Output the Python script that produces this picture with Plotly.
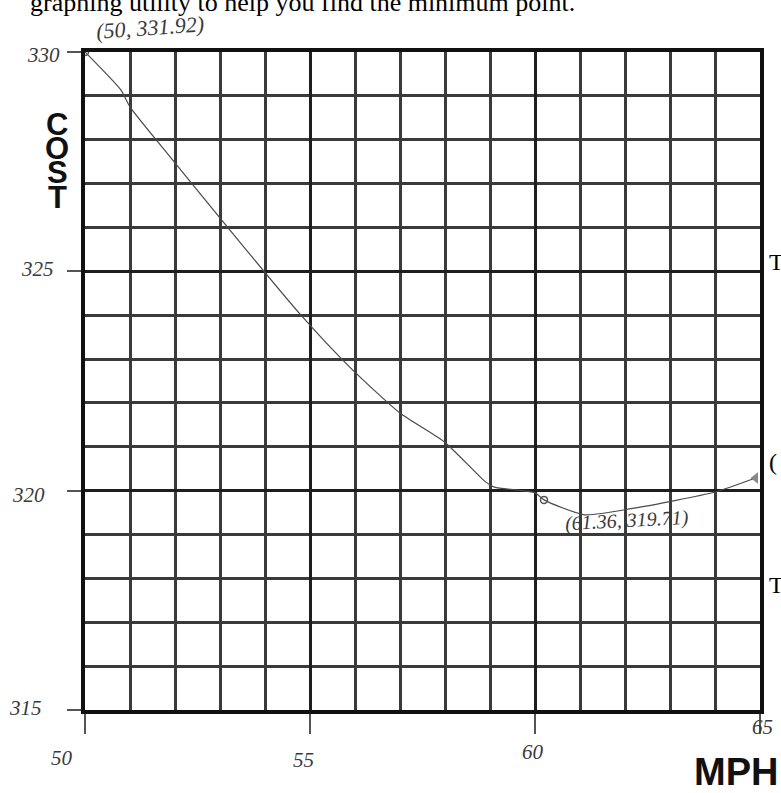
import plotly.graph_objects as go

# ---- data ----
mph = [50.0, 50.8, 51.0, 51.9, 54.8, 55.9, 57.0, 58.0, 58.9, 59.1, 60.0, 60.2, 61.1, 62.2, 64.0, 64.9]
cost = [330.0, 329.13, 328.75, 327.6, 324.0, 322.8, 321.77, 321.1, 320.2, 320.08, 319.95, 319.79, 319.45, 319.6, 319.97, 320.29]

marked_x = [50.0, 60.2]
marked_y = [330.0, 319.79]
marked_text = ["(50, 331.92)", "(61.36, 319.71)"]

x_ticks = [50, 55, 60, 65]
x_tick_labels = ["50", "55", "60", "65"]
y_ticks = [315, 320, 325, 330]
y_tick_labels = ["315", "320", "325", "330"]

W, H = 781, 793
L, R, T, B = 85, 21, 52, 83
PW, PH = W - L - R, H - T - B


def xp(px):
    return (px - L) / PW


def yp(py):
    return (H - B - py) / PH


hand = dict(family="Liberation Serif", size=21, color="#3a3a3a")

fig = go.Figure()
fig.add_trace(go.Scatter(x=mph, y=cost, mode="lines",
                         line=dict(color="#4a4a4a", width=1.2, shape="spline", smoothing=0.6),
                         hoverinfo="skip"))
fig.add_trace(go.Scatter(x=marked_x, y=marked_y, mode="markers",
                         marker=dict(symbol="circle-open", size=7, color="#555",
                                     line=dict(width=1.5)), hoverinfo="skip"))
fig.add_trace(go.Scatter(x=[mph[-1]], y=[cost[-1]], mode="markers",
                         marker=dict(symbol="triangle-left", size=10, color="#888"),
                         hoverinfo="skip"))

ann = []
# handwritten tick labels
y_label_px = [(25, 708), (28, 495), (37, 269), (43, 55)]
for t, (px, py) in zip(y_tick_labels, y_label_px):
    ann.append(dict(x=xp(px), y=yp(py), xref="paper", yref="paper", text="<i>" + t + "</i>",
                    showarrow=False, font=hand, xanchor="center", yanchor="middle"))
x_label_px = [(62, 758), (303, 760), (533, 752), (762, 727)]
for t, (px, py) in zip(x_tick_labels, x_label_px):
    ann.append(dict(x=xp(px), y=yp(py), xref="paper", yref="paper", text="<i>" + t + "</i>",
                    showarrow=False, font=hand, xanchor="center", yanchor="middle"))
# handwritten point labels
ann.append(dict(x=xp(150), y=yp(27), xref="paper", yref="paper", text="<i>" + marked_text[0] + "</i>",
                showarrow=False, font=dict(family="Liberation Serif", size=22, color="#3a3a3a"),
                xanchor="center", yanchor="middle", textangle=-4))
ann.append(dict(x=xp(627), y=yp(520), xref="paper", yref="paper", text="<i>" + marked_text[1] + "</i>",
                showarrow=False, font=dict(family="Liberation Serif", size=20, color="#3a3a3a"),
                xanchor="center", yanchor="middle", textangle=-3))
# stacked COST label
for letter, py in zip("COST", [124, 148, 172, 197]):
    ann.append(dict(x=xp(57), y=yp(py), xref="paper", yref="paper", text="<b>" + letter + "</b>",
                    showarrow=False, font=dict(family="Liberation Sans", size=31, color="#111"),
                    xanchor="center", yanchor="middle", height=24, valign="middle"))
# MPH label
ann.append(dict(x=xp(736), y=yp(772), xref="paper", yref="paper", text="<b>MPH</b>",
                showarrow=False, font=dict(family="Liberation Sans", size=38, color="#111"),
                xanchor="center", yanchor="middle"))
# worksheet text cut at the top
ann.append(dict(x=xp(28), y=yp(3), xref="paper", yref="paper",
                text="graphing utility to help you find the minimum point.",
                showarrow=False, font=dict(family="Liberation Serif", size=26, color="#000"),
                xanchor="left", yanchor="middle"))
# text cut at the right edge
for t, py in [("T", 262), ("(", 462), ("T", 585)]:
    ann.append(dict(x=xp(767), y=yp(py), xref="paper", yref="paper", text=t,
                    showarrow=False, font=dict(family="Liberation Serif", size=24, color="#000"),
                    xanchor="left", yanchor="middle"))

grid_major = "#1e1e1e"
grid_minor = "#3a3a3a"

fig.update_layout(
    width=W, height=H, autosize=False,
    margin=dict(l=L, r=R, t=T, b=B),
    paper_bgcolor="white", plot_bgcolor="white",
    showlegend=False,
    annotations=ann,
    xaxis=dict(range=[50, 65], tickvals=x_ticks, showticklabels=False,
               ticks="outside", ticklen=20, tickwidth=1.5, tickcolor="#555",
               showgrid=True, gridcolor=grid_major, gridwidth=3,
               minor=dict(tick0=50, dtick=1, showgrid=True, gridcolor=grid_minor, gridwidth=3),
               showline=True, linecolor="#111", linewidth=4, mirror=True,
               zeroline=False, fixedrange=True),
    yaxis=dict(range=[315, 330], tickvals=y_ticks, showticklabels=False,
               ticks="outside", ticklen=14, tickwidth=1.5, tickcolor="#555",
               showgrid=True, gridcolor=grid_major, gridwidth=3,
               minor=dict(tick0=315, dtick=1, showgrid=True, gridcolor=grid_minor, gridwidth=3),
               showline=True, linecolor="#111", linewidth=4, mirror=True,
               zeroline=False, fixedrange=True),
)

fig.write_html("out.html", config={"displayModeBar": False},
               post_script="document.body.style.margin='0';")
